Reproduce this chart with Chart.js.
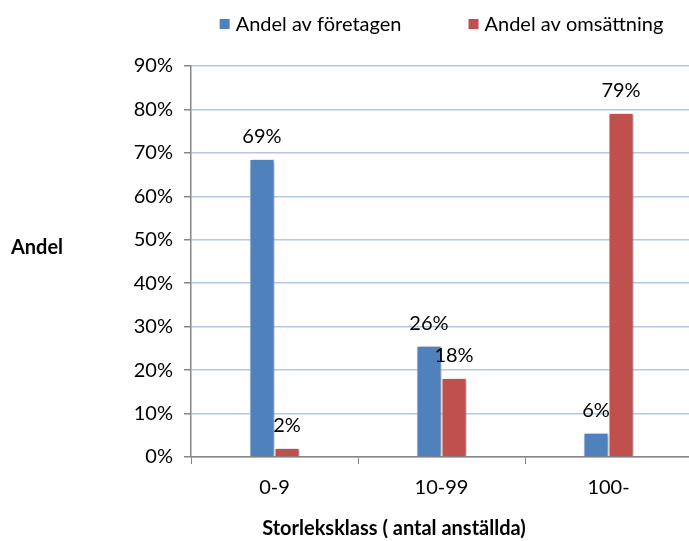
<!DOCTYPE html>
<html>
<head>
<meta charset="utf-8">
<script src="https://cdn.jsdelivr.net/npm/chart.js@4.4.1/dist/chart.umd.min.js"></script>
<style>
  html, body { margin: 0; padding: 0; background: #fff; overflow: hidden; }
  #wrap { width: 700px; height: 541px; position: relative; }
</style>
</head>
<body>
<div id="wrap"><canvas id="c"></canvas></div>
<script>
const categories = ['0-9', '10-99', '100-'];
const seriesNames = ['Andel av företagen', 'Andel av omsättning'];
const foretagen = [68.6, 25.6, 5.6];
const omsattning = [2.1, 18.2, 79.2];
const yTicks = [0, 10, 20, 30, 40, 50, 60, 70, 80, 90];
const yTitle = 'Andel';
const xTitle = 'Storleksklass ( antal anställda)';

const FONT = 'Lato, "Open Sans", sans-serif';
const FS = 20;
const colors = ['#4f81bd', '#c0504d'];

const shadowPlugin = {
  id: 'barShadow',
  beforeDatasetsDraw(chart) {
    const ctx = chart.ctx;
    ctx.save();
    ctx.shadowColor = 'rgba(0,0,0,0.35)';
    ctx.shadowBlur = 4;
    ctx.shadowOffsetX = 2;
    ctx.shadowOffsetY = 1;
  },
  afterDatasetsDraw(chart) {
    chart.ctx.restore();
  }
};

const labelPlugin = {
  id: 'valueLabels',
  afterDatasetsDraw(chart) {
    const ctx = chart.ctx;
    ctx.save();
    ctx.font = FS + 'px ' + FONT;
    ctx.fillStyle = '#000';
    ctx.textAlign = 'center';
    ctx.textBaseline = 'middle';
    chart.data.datasets.forEach((ds, i) => {
      const meta = chart.getDatasetMeta(i);
      meta.data.forEach((bar, j) => {
        ctx.fillText(Math.round(ds.data[j]) + '%', bar.x, bar.y - 22);
      });
    });
    ctx.restore();
  }
};

const extrasPlugin = {
  id: 'extras',
  afterDraw(chart) {
    const ctx = chart.ctx;
    const ca = chart.chartArea;
    ctx.save();
    // legend
    ctx.font = FS + 'px ' + FONT;
    ctx.textBaseline = 'middle';
    ctx.textAlign = 'left';
    const sq = 10, gapSq = 6, gapItem = 67;
    const widths = chart.data.datasets.map(ds => sq + gapSq + ctx.measureText(ds.label).width);
    const total = widths.reduce((a, b) => a + b, 0) + gapItem * (widths.length - 1);
    let x = (ca.left + ca.right) / 2 - total / 2;
    const ly = 24;
    chart.data.datasets.forEach((ds, i) => {
      ctx.fillStyle = ds.backgroundColor;
      ctx.fillRect(x, ly - sq / 2, sq, sq);
      ctx.fillStyle = '#000';
      ctx.fillText(ds.label, x + sq + gapSq, ly + 1);
      x += widths[i] + gapItem;
    });
    // axis titles
    ctx.font = 'bold ' + FS + 'px ' + FONT;
    ctx.textAlign = 'center';
    ctx.fillText(yTitle, 37, 248);
    ctx.fillText(xTitle, 394, 529);
    ctx.restore();
  }
};

new Chart(document.getElementById('c'), {
  type: 'bar',
  data: {
    labels: categories,
    datasets: [
      { label: seriesNames[0], data: foretagen, backgroundColor: colors[0], borderColor: 'rgba(255,255,255,0.7)', borderWidth: 1 },
      { label: seriesNames[1], data: omsattning, backgroundColor: colors[1], borderColor: 'rgba(255,255,255,0.7)', borderWidth: 1 }
    ]
  },
  options: {
    responsive: true,
    maintainAspectRatio: false,
    animation: false,
    layout: { padding: { top: 66, right: 8, bottom: 0, left: 0 } },
    plugins: { legend: { display: false }, tooltip: { enabled: false } },
    datasets: { bar: { barPercentage: 1, categoryPercentage: 0.3 } },
    scales: {
      x: {
        afterFit(s) { s.height = 84; },
        grid: { offset: true, drawOnChartArea: false, drawTicks: true, tickLength: 7, color: '#868686', tickColor: '#868686' },
        border: { color: '#868686', width: 1.5 },
        ticks: { color: '#000', padding: 12, font: { family: FONT, size: FS } }
      },
      y: {
        min: 0, max: 90,
        afterFit(s) { s.width = 191; },
        afterBuildTicks(s) { s.ticks = yTicks.map(v => ({ value: v })); },
        grid: { color: '#b4c7e7', tickColor: '#868686', tickLength: 7, lineWidth: 1.5 },
        border: { color: '#868686', width: 1.5 },
        ticks: { color: '#000', padding: 11, font: { family: FONT, size: FS }, callback: v => v + '%' }
      }
    }
  },
  plugins: [shadowPlugin, labelPlugin, extrasPlugin]
});
</script>
</body>
</html>
